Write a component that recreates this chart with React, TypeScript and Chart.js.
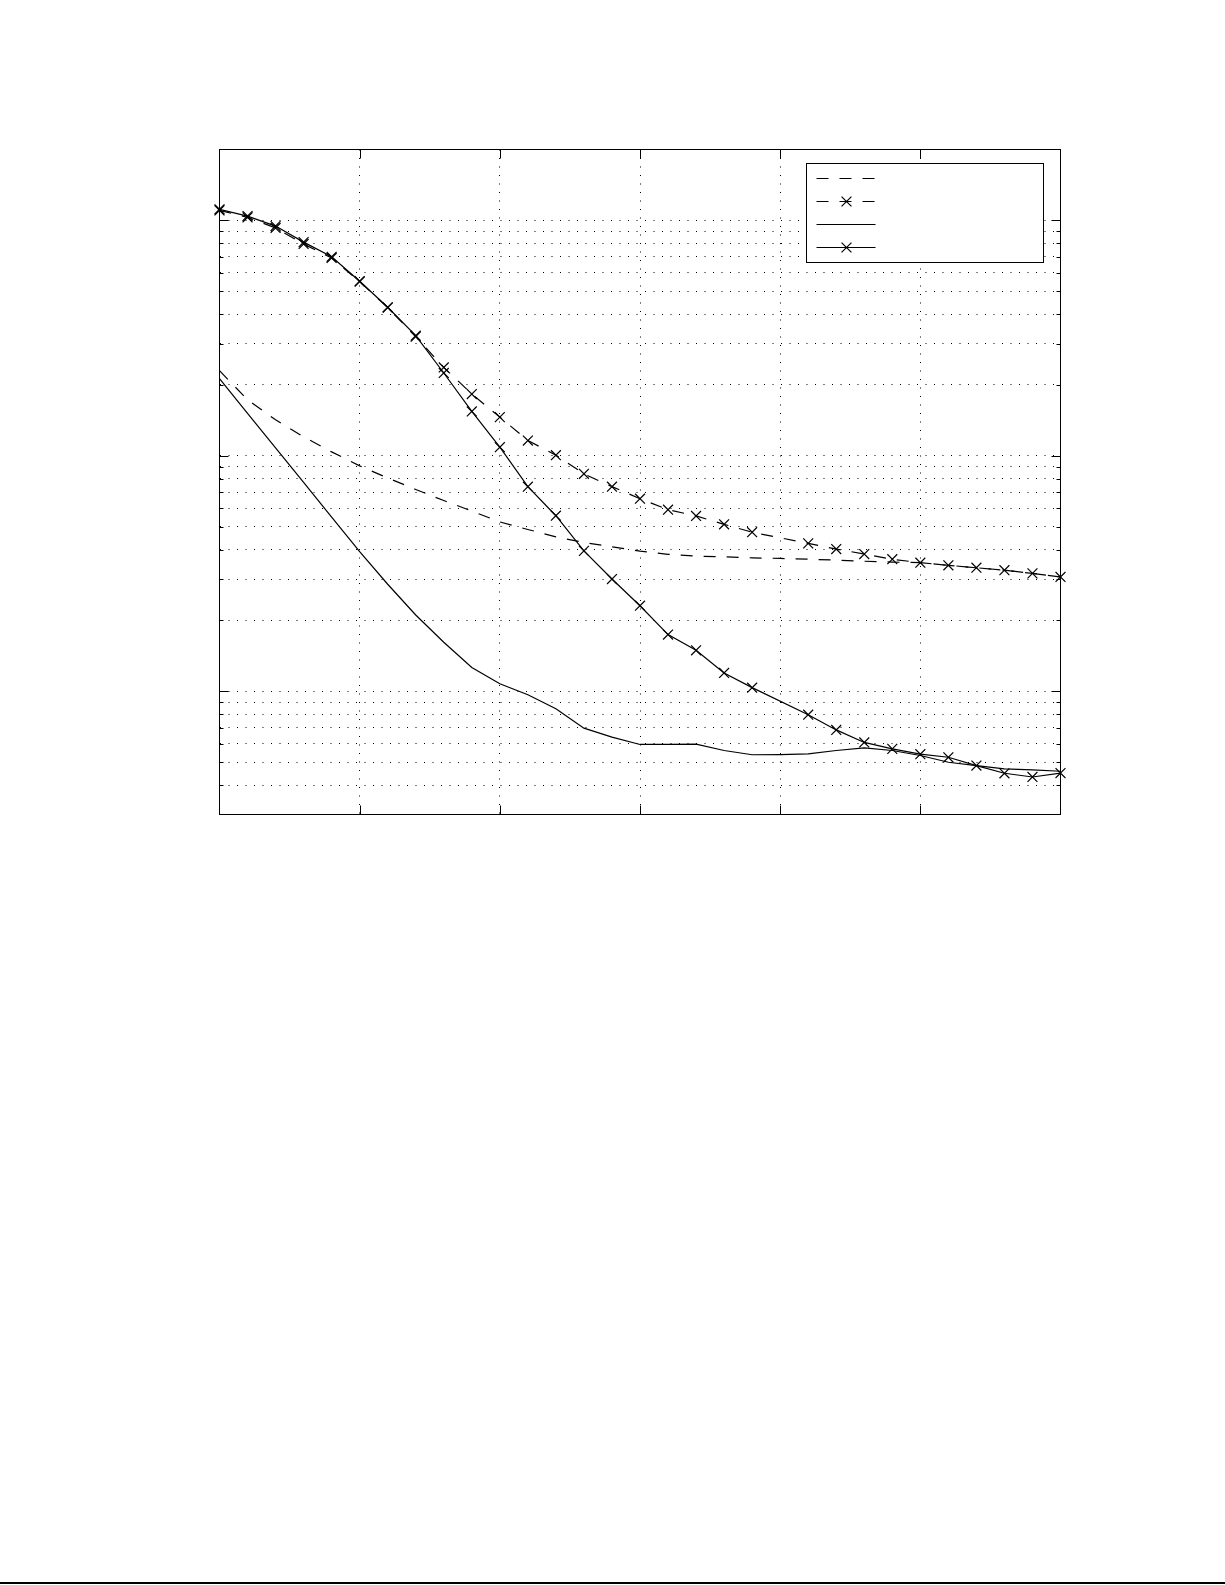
import { useEffect, useRef } from 'react';
import { Chart, registerables } from 'chart.js';

Chart.register(...registerables);

// x positions of the samples (the figure carries no tick labels)
const steps = [0, 1, 2, 3, 4, 5, 6, 7, 8, 9, 10, 11, 12, 13, 14, 15, 16, 17, 18, 19, 20, 21, 22, 23, 24, 25, 26, 27, 28, 29, 30];
const xTicks = [0, 5, 10, 15, 20, 25, 30];

// series (log scale); null = no sample drawn there
const dashedPlain = [0.23, 0.1731, 0.1423, 0.1205, 0.104, 0.0907, 0.0806, 0.072, 0.0646, 0.0583, 0.0524, 0.0487, 0.0453, 0.0429, 0.0411, 0.0394, 0.0382, 0.0375, 0.0373, 0.0369, 0.0367, 0.0364, 0.0361, 0.0357, 0.0354, 0.0352, 0.0343, 0.0335, 0.0327, 0.0317, 0.0306];
const dashedCross = [1.103, 1.03, 0.929, 0.794, 0.6925, 0.55, 0.4264, 0.3209, 0.2375, 0.1831, 0.1461, 0.1162, 0.1007, 0.0839, 0.074, 0.0658, 0.0591, 0.0556, 0.0512, 0.0474, null, 0.0425, 0.0402, 0.0383, 0.0364, 0.0352, 0.0343, 0.0335, 0.0327, 0.0317, 0.0306];
const solidPlain = [0.2127, 0.1517, 0.1081, 0.0771, 0.055, 0.0392, 0.0285, 0.0211, 0.01616, 0.01262, 0.01078, 0.00968, 0.00844, 0.00698, 0.00639, 0.00595, 0.00595, 0.00597, 0.00561, 0.00538, 0.00539, 0.00543, 0.00561, 0.00575, 0.00561, 0.00534, 0.005, 0.00484, 0.00469, 0.00464, 0.00458];
const solidCross = [1.114, 1.043, 0.9457, 0.8085, 0.7007, 0.5516, 0.4277, 0.324, 0.2249, 0.1544, 0.1089, 0.074, 0.0557, 0.0395, 0.03, 0.0231, 0.01743, 0.01494, 0.01197, 0.01037, null, 0.00796, 0.00686, 0.00607, 0.0057, 0.00541, 0.00525, 0.00484, 0.00449, 0.00433, 0.0045];

const yMin = 0.003;
const yMax = 2;
const decades = [0.001, 0.01, 0.1, 1];
const mantissas = [1, 2, 3, 4, 5, 6, 7, 8, 9];
const yTicks = decades
  .flatMap((d) => mantissas.map((m) => m * d))
  .filter((v) => v >= yMin - 1e-9 && v <= yMax + 1e-9);

const DASH = [12, 11];

const isDecade = (v: number) => Math.abs(Math.log10(v) - Math.round(Math.log10(v))) < 1e-6;

// matlab style box, inward ticks and a legend without text
const frame = {
  id: 'frame',
  afterDraw(chart: any) {
    const { ctx, chartArea, scales } = chart;
    const { left, right, top, bottom } = chartArea;
    const x = scales.x;
    const y = scales.y;
    ctx.save();
    ctx.strokeStyle = '#000';
    ctx.lineWidth = 1;
    ctx.setLineDash([]);

    ctx.beginPath();
    x.ticks.forEach((t: any) => {
      if (t.value <= x.min || t.value >= x.max) return;
      const px = Math.round(x.getPixelForValue(t.value)) + 0.5;
      ctx.moveTo(px, bottom);
      ctx.lineTo(px, bottom - 9);
      ctx.moveTo(px, top);
      ctx.lineTo(px, top + 9);
    });
    y.ticks.forEach((t: any) => {
      if (t.value <= y.min * 1.0001 || t.value >= y.max * 0.9999) return;
      const py = Math.round(y.getPixelForValue(t.value)) + 0.5;
      const len = isDecade(t.value) ? 9 : 4;
      ctx.moveTo(left, py);
      ctx.lineTo(left + len, py);
      ctx.moveTo(right, py);
      ctx.lineTo(right - len, py);
    });
    ctx.stroke();
    ctx.strokeRect(left, top, right - left, bottom - top);

    // legend
    const boxL = Math.round(right) - 255 + 0.5;
    const boxR = Math.round(right) - 18 + 0.5;
    const boxT = Math.round(top) + 13 + 0.5;
    const boxB = boxT + 99;
    ctx.fillStyle = '#fff';
    ctx.fillRect(boxL, boxT, boxR - boxL, boxB - boxT);
    ctx.strokeRect(boxL, boxT, boxR - boxL, boxB - boxT);
    chart.data.datasets.forEach((ds: any, i: number) => {
      const ry = boxT + 15 + i * 23;
      ctx.lineWidth = ds.borderWidth;
      ctx.setLineDash(ds.borderDash || []);
      ctx.beginPath();
      ctx.moveTo(boxL + 10, ry);
      ctx.lineTo(boxL + 69, ry);
      ctx.stroke();
      if (ds.pointRadius > 0) {
        const mx = boxL + 40;
        const h = ds.pointRadius * Math.SQRT1_2;
        ctx.setLineDash([]);
        ctx.lineWidth = ds.pointBorderWidth;
        ctx.beginPath();
        ctx.moveTo(mx - h, ry - h);
        ctx.lineTo(mx + h, ry + h);
        ctx.moveTo(mx - h, ry + h);
        ctx.lineTo(mx + h, ry - h);
        ctx.stroke();
      }
    });
    ctx.restore();
  },
};

const series = (values: (number | null)[], dashed: boolean, marked: boolean) => ({
  data: steps.map((s, i) => ({ x: s, y: values[i] })),
  borderColor: '#000',
  backgroundColor: '#000',
  borderWidth: 1.2,
  borderDash: dashed ? DASH : [],
  pointStyle: 'crossRot',
  pointRadius: marked ? 7 : 0,
  pointBorderWidth: 1.2,
  pointBorderColor: '#000',
  tension: 0,
  spanGaps: true,
  clip: false as const,
});

export default function App() {
  const canvas = useRef<HTMLCanvasElement | null>(null);

  useEffect(() => {
    const node = canvas.current;
    if (!node) {
      return;
    }

    const chart = new Chart(node, {
      type: 'line',
      data: {
        datasets: [
          series(dashedPlain, true, false),
          series(dashedCross, true, true),
          series(solidPlain, false, false),
          series(solidCross, false, true),
        ] as any,
      },
      options: {
        responsive: false,
        animation: false,
        events: [],
        layout: {
          padding: { left: 219.5, top: 149.5, right: 164.5, bottom: 85.5 },
        },
        plugins: {
          legend: { display: false },
          tooltip: { enabled: false },
        },
        scales: {
          x: {
            type: 'linear',
            min: 0,
            max: 30,
            afterBuildTicks: (scale: any) => {
              scale.ticks = xTicks.map((v) => ({ value: v }));
            },
            ticks: { display: false },
            grid: { color: '#000', lineWidth: 1, drawTicks: false },
            border: { display: false, dash: [1, 7.5] },
          },
          y: {
            type: 'logarithmic',
            min: yMin,
            max: yMax,
            bounds: 'data',
            afterBuildTicks: (scale: any) => {
              scale.ticks = yTicks.map((v) => ({ value: v }));
            },
            ticks: { display: false },
            grid: { color: '#000', lineWidth: 1, drawTicks: false },
            border: { display: false, dash: [1, 7.5] },
          },
        },
      },
      plugins: [frame],
    });

    return () => {
      chart.destroy();
    };
  }, []);

  return (
    <div style={{ position: 'fixed', left: 0, top: 0, width: 1225, height: 1585, background: '#fff', overflow: 'hidden' }}>
      <canvas ref={canvas} width={1225} height={900} style={{ position: 'absolute', left: 0, top: 0 }} />
      <div style={{ position: 'absolute', left: 0, top: 1582, width: 1225, height: 2, background: '#000' }} />
    </div>
  );
}
